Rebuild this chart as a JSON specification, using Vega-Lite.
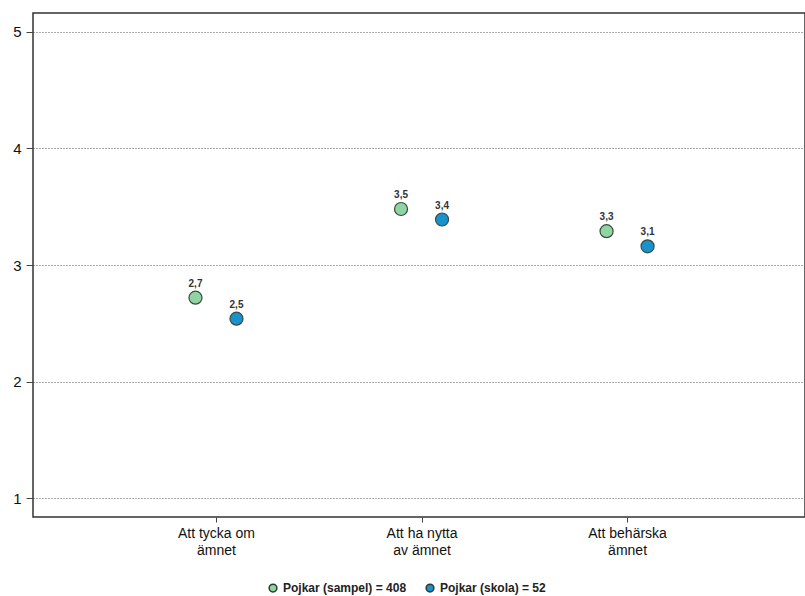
{
  "$schema": "https://vega.github.io/schema/vega-lite/v6.json",
  "autosize": "none",
  "width": 772,
  "height": 504,
  "padding": {"left": 33, "top": 13, "right": 0, "bottom": 79},
  "background": "white",
  "config": {
    "font": "Liberation Sans",
    "view": {"stroke": "#333333", "strokeWidth": 1.5}
  },
  "data": {
    "values": [
      {"kategori": "Att tycka om ämnet", "grupp": "Pojkar (sampel) = 408", "medel": 2.72, "etikett": "2,7"},
      {"kategori": "Att tycka om ämnet", "grupp": "Pojkar (skola) = 52", "medel": 2.54, "etikett": "2,5"},
      {"kategori": "Att ha nytta av ämnet", "grupp": "Pojkar (sampel) = 408", "medel": 3.48, "etikett": "3,5"},
      {"kategori": "Att ha nytta av ämnet", "grupp": "Pojkar (skola) = 52", "medel": 3.39, "etikett": "3,4"},
      {"kategori": "Att behärska ämnet", "grupp": "Pojkar (sampel) = 408", "medel": 3.29, "etikett": "3,3"},
      {"kategori": "Att behärska ämnet", "grupp": "Pojkar (skola) = 52", "medel": 3.16, "etikett": "3,1"}
    ]
  },
  "encoding": {
    "x": {
      "field": "kategori",
      "type": "nominal",
      "sort": ["Att tycka om ämnet", "Att ha nytta av ämnet", "Att behärska ämnet"],
      "scale": {"type": "point", "padding": 0.878, "align": 0.507},
      "axis": {
        "title": null,
        "labelAngle": 0,
        "labelExpr": "datum.value == 'Att tycka om ämnet' ? ['Att tycka om', 'ämnet'] : datum.value == 'Att ha nytta av ämnet' ? ['Att ha nytta', 'av ämnet'] : ['Att behärska', 'ämnet']",
        "labelFontSize": 14,
        "labelColor": "#111111",
        "labelLineHeight": 17,
        "labelPadding": 4,
        "tickSize": 5,
        "tickColor": "#444444",
        "domain": false,
        "grid": false
      }
    },
    "y": {
      "field": "medel",
      "type": "quantitative",
      "scale": {"domain": [0.84, 5.16], "nice": false, "zero": false},
      "axis": {
        "title": null,
        "values": [1, 2, 3, 4, 5],
        "format": "d",
        "labelFontSize": 15,
        "labelColor": "#111111",
        "labelPadding": 5,
        "tickSize": 7,
        "tickColor": "#444444",
        "domain": false,
        "grid": true,
        "gridColor": "#555555",
        "gridDash": [1, 2],
        "gridWidth": 1
      }
    },
    "color": {
      "field": "grupp",
      "type": "nominal",
      "scale": {"domain": ["Pojkar (sampel) = 408", "Pojkar (skola) = 52"], "range": ["#8fd4a2", "#1a92cc"]},
      "legend": {
        "title": null,
        "orient": "none",
        "direction": "horizontal",
        "legendX": 234,
        "legendY": 569,
        "symbolType": "circle",
        "symbolSize": 60,
        "symbolStrokeColor": "#2a3a30",
        "symbolStrokeWidth": 1.5,
        "labelFontSize": 12,
        "labelFontWeight": "bold",
        "labelColor": "#222222",
        "labelOffset": 4,
        "columnPadding": 16
      }
    }
  },
  "layer": [
    {
      "transform": [{"filter": "datum.grupp == 'Pojkar (sampel) = 408'"}],
      "mark": {"type": "point", "filled": true, "size": 170, "stroke": "#3a4a40", "strokeWidth": 1.2, "opacity": 1, "xOffset": -20.5}
    },
    {
      "transform": [{"filter": "datum.grupp == 'Pojkar (skola) = 52'"}],
      "mark": {"type": "point", "filled": true, "size": 170, "stroke": "#3a4a40", "strokeWidth": 1.2, "opacity": 1, "xOffset": 20.5}
    },
    {
      "transform": [{"filter": "datum.grupp == 'Pojkar (sampel) = 408'"}],
      "mark": {"type": "text", "dy": -14, "fontSize": 10, "fontWeight": "bold", "color": "#333333", "xOffset": -20.5},
      "encoding": {"text": {"field": "etikett", "type": "nominal"}, "color": {"value": "#333333"}}
    },
    {
      "transform": [{"filter": "datum.grupp == 'Pojkar (skola) = 52'"}],
      "mark": {"type": "text", "dy": -14, "fontSize": 10, "fontWeight": "bold", "color": "#333333", "xOffset": 20.5},
      "encoding": {"text": {"field": "etikett", "type": "nominal"}, "color": {"value": "#333333"}}
    }
  ]
}
